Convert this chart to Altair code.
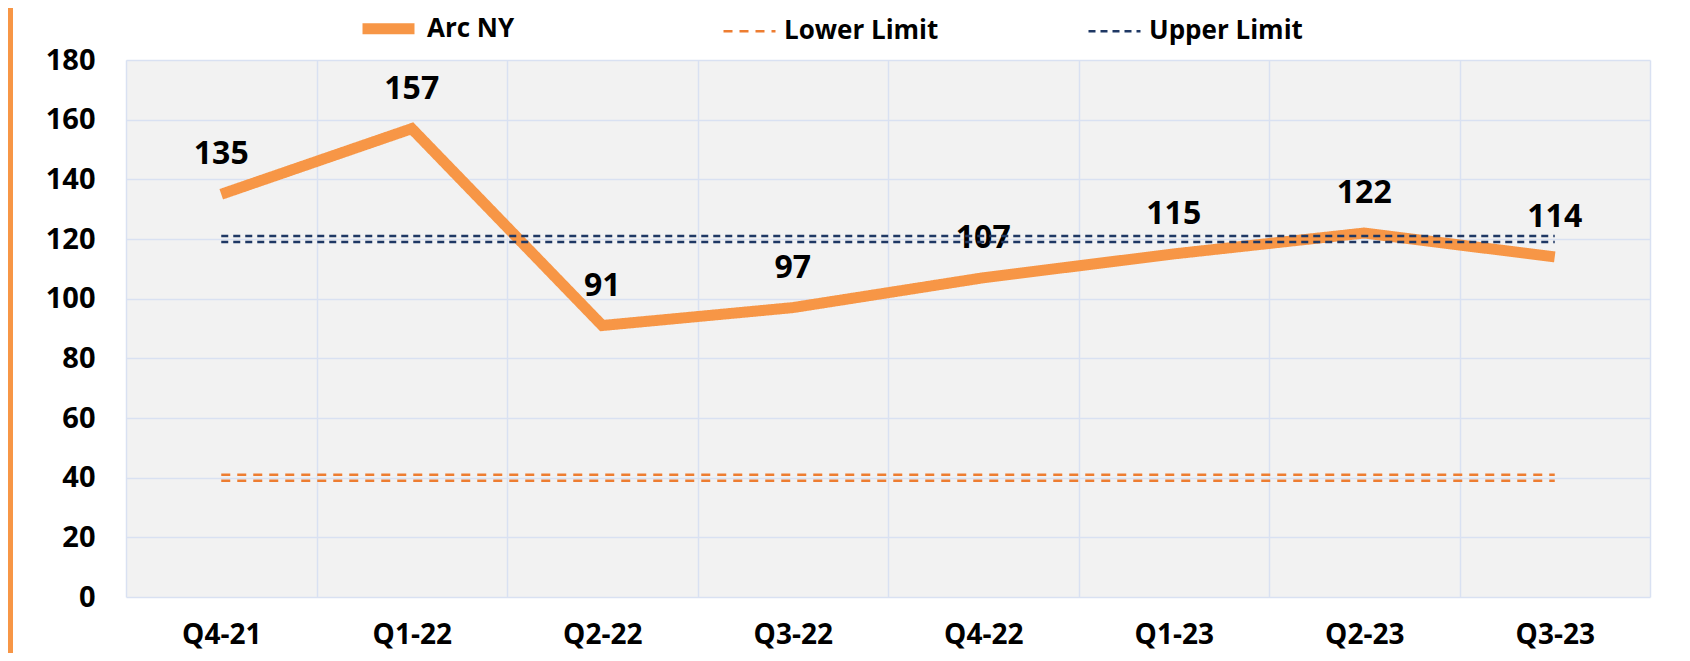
import altair as alt
import pandas as pd

quarters = ["Q4-21", "Q1-22", "Q2-22", "Q3-22", "Q4-22", "Q1-23", "Q2-23", "Q3-23"]
arc_ny = [135, 157, 91, 97, 107, 115, 122, 114]
lower_limit = [40, 40, 40, 40, 40, 40, 40, 40]
upper_limit = [120, 120, 120, 120, 120, 120, 120, 120]

series_names = ["Arc NY", "Lower Limit", "Upper Limit"]
series_colors = ["#F79646", "#ED7D31", "#1F3864"]
series_dash = [[1, 0], [9, 7], [7, 5]]
series_width = [11, 2.5, 2.5]
y_ticks = [0, 20, 40, 60, 80, 100, 120, 140, 160, 180]

rows = []
for name, vals in zip(series_names, [arc_ny, lower_limit, upper_limit]):
    for q, v in zip(quarters, vals):
        rows.append({"quarter": q, "series": name, "value": v})
df = pd.DataFrame(rows)

FONT = "Open Sans"

x_enc = alt.X(
    "quarter:N",
    sort=quarters,
    title=None,
    scale=alt.Scale(type="band", paddingInner=0, paddingOuter=0),
    axis=alt.Axis(
        tickBand="extent", grid=True, ticks=False, domain=False,
        labelAngle=0, labelFont=FONT, labelFontSize=28, labelFontWeight="bold",
        labelColor="black", labelPadding=46, labelBaseline="alphabetic",
        gridColor="#D9E1F2", gridWidth=1.5,
    ),
)
y_enc = alt.Y(
    "value:Q",
    title=None,
    scale=alt.Scale(domain=[0, 180], nice=False),
    axis=alt.Axis(
        values=y_ticks, grid=True, ticks=False, domain=False,
        labelFont=FONT, labelFontSize=29, labelFontWeight="bold",
        labelColor="black", labelPadding=31,
        gridColor="#D9E1F2", gridWidth=1.5,
    ),
)

color_enc = alt.Color(
    "series:N",
    scale=alt.Scale(domain=series_names, range=series_colors),
    legend=alt.Legend(
        orient="none", legendX=231, legendY=-63, direction="horizontal",
        title=None, symbolType="stroke", symbolSize=2704,
        labelFont=FONT, labelFontSize=26, labelFontWeight="bold",
        labelColor="black", columnPadding=144, gridAlign="all",
        labelLimit=400, labelOffset=7,
    ),
)
dash_enc = alt.StrokeDash(
    "series:N", scale=alt.Scale(domain=series_names, range=series_dash), legend=None
)
width_enc = alt.StrokeWidth(
    "series:N",
    scale=alt.Scale(type="ordinal", domain=series_names, range=series_width),
    legend=None,
)

base = alt.Chart(df)

arc_line = base.transform_filter(alt.datum.series == "Arc NY").mark_line(
    strokeCap="butt", strokeJoin="miter"
).encode(x=x_enc, y=y_enc, color=color_enc, strokeDash=dash_enc, strokeWidth=width_enc)

labels = base.transform_filter(alt.datum.series == "Arc NY").mark_text(
    dy=-40, font=FONT, fontSize=32, fontWeight="bold", color="black"
).encode(x=alt.X("quarter:N", sort=quarters), y="value:Q", text="value:Q")

limits_a = base.transform_filter(alt.datum.series != "Arc NY").mark_line(
    yOffset=-3, strokeCap="butt"
).encode(x=x_enc, y=y_enc, color=color_enc, strokeDash=dash_enc, strokeWidth=width_enc)

limits_b = base.transform_filter(alt.datum.series != "Arc NY").mark_line(
    yOffset=3, strokeCap="butt"
).encode(x=x_enc, y=y_enc, color=color_enc, strokeDash=dash_enc, strokeWidth=width_enc)

left_bar = alt.Chart(pd.DataFrame({"a": [0]})).mark_rule(
    color="#F79646", strokeWidth=5
).encode(x=alt.value(-115.5), y=alt.value(-52), y2=alt.value(594))

chart = alt.layer(arc_line, labels, limits_a, limits_b, left_bar).properties(
    width=1524,
    height=537,
    padding={"left": 118, "top": 52, "right": 32, "bottom": 56},
    autosize=alt.AutoSizeParams(type="none"),
).configure_view(fill="#F2F2F2", stroke=None)

chart.save("out.html", embed_options={"renderer": "svg", "actions": False})
